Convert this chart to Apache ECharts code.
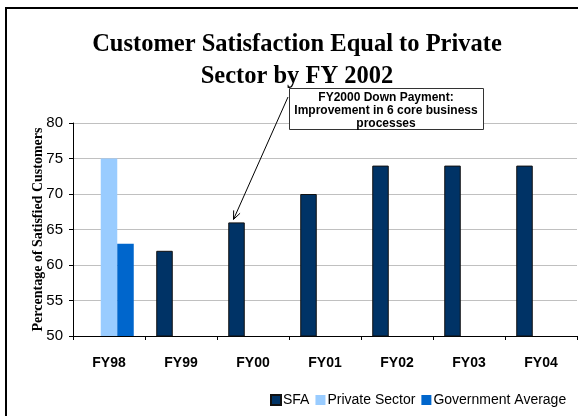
<!DOCTYPE html>
<html>
<head>
<meta charset="utf-8">
<script src="https://cdn.jsdelivr.net/npm/echarts@6/dist/echarts.min.js"></script>
<style>
  html, body { margin: 0; padding: 0; background: #fff; }
  #chart { width: 578px; height: 416px; }
</style>
</head>
<body>
<div id="chart"></div>
<script>
const years = ['FY98', 'FY99', 'FY00', 'FY01', 'FY02', 'FY03', 'FY04']
const sfa = [null, 62, 66, 70, 74, 74, 74]
const privateSector = [75, null, null, null, null, null, null]
const govAverage = [63, null, null, null, null, null, null]
const yTicks = { min: 50, max: 80, step: 5 }

const BAR_W = 16.5
const sans = 'Liberation Sans, Arial, sans-serif'
const serif = 'Liberation Serif, Times New Roman, serif'

const chart = echarts.init(document.getElementById('chart'))

const options = {
  animation: false,
  backgroundColor: '#fff',
  legend: {
    data: ['SFA', 'Private Sector', 'Government Average'],
    left: 265,
    top: 388,
    itemWidth: 10,
    itemHeight: 10,
    itemGap: 6,
    icon: 'rect',
    textStyle: { fontFamily: sans, fontSize: 14, color: '#000', padding: [0, 0, 0, -3] }
  },
  grid: { left: 73, right: 1, top: 123, bottom: 80 },
  xAxis: {
    type: 'category',
    data: years,
    axisLine: { lineStyle: { color: '#000', width: 1 } },
    axisTick: { show: true, length: 4, lineStyle: { color: '#000' } },
    axisLabel: { fontFamily: sans, fontSize: 14, fontWeight: 'bold', color: '#000', margin: 20 }
  },
  yAxis: {
    type: 'value',
    min: yTicks.min,
    max: yTicks.max,
    interval: yTicks.step,
    name: 'Percentage of Satisfied Customers',
    nameLocation: 'middle',
    nameGap: 28,
    nameMoveOverlap: false,
    nameTextStyle: { fontFamily: serif, fontSize: 14, fontWeight: 'bold', color: '#000' },
    axisLine: { show: true, lineStyle: { color: '#000', width: 1 } },
    axisTick: { show: true, length: 4, lineStyle: { color: '#000' } },
    axisLabel: { fontFamily: sans, fontSize: 15, color: '#000', margin: 10 },
    splitLine: { lineStyle: { color: '#c0c0c0', width: 1 } }
  },
  series: [{
    name: 'SFA',
    type: 'bar',
    barWidth: BAR_W,
    barGap: '0%',
    itemStyle: { color: '#003366', borderColor: '#111', borderWidth: 1 },
    data: sfa
  }, {
    name: 'Private Sector',
    type: 'bar',
    barWidth: BAR_W,
    barGap: '0%',
    itemStyle: { color: '#99ccff' },
    data: privateSector
  }, {
    name: 'Government Average',
    type: 'bar',
    barWidth: BAR_W,
    barGap: '0%',
    itemStyle: { color: '#0066cc' },
    data: govAverage
  }]
}
chart.setOption(options)

// annotation arrow points at the FY00 SFA bar top
const pt = chart.convertToPixel({ xAxisIndex: 0, yAxisIndex: 0 }, ['FY00', sfa[2]])
const tip = [pt[0] - BAR_W - 3, pt[1] - 3]
const start = [288, 97]
const dx = tip[0] - start[0], dy = tip[1] - start[1]
const len = Math.sqrt(dx * dx + dy * dy)
const ux = dx / len, uy = dy / len
const head = 9, ang = 0.4
const rot = (a) => [
  tip[0] - head * (ux * Math.cos(a) - uy * Math.sin(a)),
  tip[1] - head * (ux * Math.sin(a) + uy * Math.cos(a))
]

chart.setOption({
  graphic: [
    // frame
    { type: 'line', shape: { x1: 6, y1: 8, x2: 6, y2: 416 }, style: { stroke: '#000', lineWidth: 2 } },
    { type: 'line', shape: { x1: 5, y1: 8, x2: 578, y2: 8 }, style: { stroke: '#000', lineWidth: 2 } },
    // title
    {
      type: 'text',
      x: 297,
      y: 61,
      style: {
        text: 'Customer Satisfaction Equal to Private\nSector by FY 2002',
        font: 'bold 24.5px ' + serif,
        lineHeight: 32,
        fill: '#000',
        textAlign: 'center',
        textVerticalAlign: 'middle'
      }
    },
    // arrow
    { type: 'line', shape: { x1: start[0], y1: start[1], x2: tip[0], y2: tip[1] }, style: { stroke: '#000', lineWidth: 1 }, z: 10 },
    { type: 'polyline', shape: { points: [rot(ang), tip, rot(-ang)] }, style: { stroke: '#000', lineWidth: 1, fill: null }, z: 10 },
    // annotation box
    {
      type: 'rect',
      shape: { x: 289.5, y: 88.5, width: 194, height: 41 },
      style: { fill: '#fff', stroke: '#333', lineWidth: 1 },
      z: 10
    },
    {
      type: 'text',
      x: 386,
      y: 111,
      z: 11,
      style: {
        text: 'FY2000 Down Payment:\nImprovement in 6 core business\nprocesses',
        font: 'bold 12px ' + sans,
        lineHeight: 13,
        fill: '#000',
        textAlign: 'center',
        textVerticalAlign: 'middle'
      }
    }
  ]
})
</script>
</body>
</html>
